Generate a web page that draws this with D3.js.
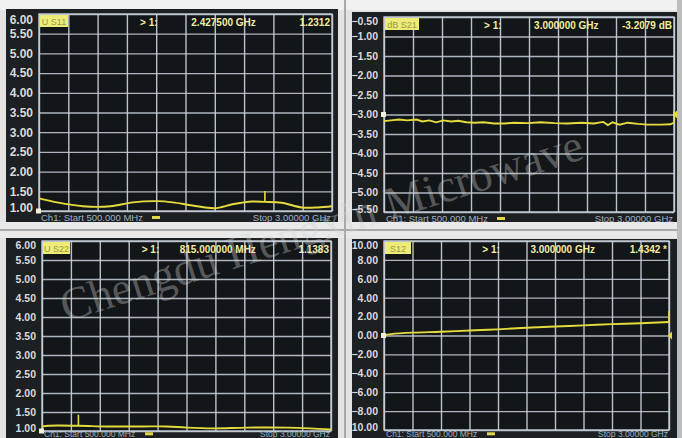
<!DOCTYPE html>
<html><head><meta charset="utf-8">
<script src="https://cdn.jsdelivr.net/npm/d3@7"></script>
<style>body{margin:0;background:#e6e6e6;overflow:hidden}svg{display:block}</style>
</head><body>
<svg id="c" width="682" height="438"></svg>
<script>
// ---- data ----
const freqS11 = [0.5,0.65,0.875,1.11,1.30,1.51,1.64,1.81,2.0,2.15,2.32,2.4275,2.57,2.74,2.88,3.0];
const vswrS11 = [1.32,1.22,1.12,1.12,1.22,1.25,1.22,1.14,1.07,1.17,1.24,1.2312,1.21,1.09,1.09,1.12];

const freqS21 = [0.5,0.56,0.63,0.70,0.78,0.83,0.89,0.95,1.01,1.08,1.14,1.21,1.28,1.36,1.45,1.54,1.62,1.74,1.85,1.97,2.08,2.20,2.31,2.39,2.43,2.47,2.53,2.60,2.69,2.77,2.89,2.97,3.0];
const dbS21   = [-3.17,-3.15,-3.13,-3.15,-3.13,-3.18,-3.15,-3.20,-3.15,-3.18,-3.16,-3.20,-3.21,-3.20,-3.23,-3.23,-3.21,-3.22,-3.20,-3.22,-3.23,-3.21,-3.23,-3.19,-3.27,-3.20,-3.26,-3.21,-3.24,-3.26,-3.26,-3.25,-3.2079];

const freqS22 = [0.5,0.56,0.815,1.06,1.37,1.58,1.75,1.98,2.27,2.62,2.82,3.0];
const vswrS22 = [1.12,1.14,1.1383,1.12,1.12,1.12,1.09,1.07,1.09,1.09,1.07,1.04];

const freqS12 = [0.5,0.56,0.75,1.0,1.3,1.5,1.75,2.0,2.25,2.5,2.75,3.0];
const valS12  = [0.05,0.15,0.3,0.4,0.55,0.65,0.82,0.95,1.07,1.2,1.3,1.4342];

const ticksVSWR = [6.00,5.50,5.00,4.50,4.00,3.50,3.00,2.50,2.00,1.50,1.00];
const ticksS21  = [-0.50,-1.00,-1.50,-2.00,-2.50,-3.00,-3.50,-4.00,-4.50,-5.00,-5.50];
const ticksS12  = [10,8,6,4,2,0,-2,-4,-6,-8,-10];

const traceNames   = ["U S11","dB S21","U S22","S12"];
const markerFreqs  = ["2.427500 GHz","3.000000 GHz","815.000000 MHz","3.000000 GHz"];
const markerValues = ["1.2312","-3.2079 dB","1.1383","1.4342 *"];
const startLabel = "Ch1: Start 500.000 MHz";
const stopLabel  = "Stop 3.00000 GHz";
const watermark  = "Chengdu Hengxin Microwave";

// ---- layout ----
const svg = d3.select("#c");
svg.append("rect").attr("width",682).attr("height",438).attr("fill","#e3e3e3");
svg.append("rect").attr("width",682).attr("height",10).attr("fill","#f1f1f1");
svg.append("rect").attr("x",0).attr("y",222).attr("width",682).attr("height",16).attr("fill","#e9e9e9");
svg.append("line").attr("x1",0).attr("x2",682).attr("y1",230).attr("y2",230).attr("stroke","#a9a9a9").attr("stroke-width",2);
svg.append("line").attr("x1",345).attr("x2",345).attr("y1",0).attr("y2",438).attr("stroke","#a9a9a9").attr("stroke-width",2);
svg.append("rect").attr("x",677).attr("y",0).attr("width",5).attr("height",438).attr("fill","#bdbdbd");

const panels = [
  {screen:[6,9,332,213],  plot:[39,332,14,211], dom:[1,6], ticks:ticksVSWR, fs:12,
   f:freqS11, v:vswrS11, mk:2.4275, ref:1, curve:d3.curveCatmullRom, boxW:28, rightTri:false},
  {screen:[352,12,325,210], plot:[384,674,17,212], dom:[-5.5,-0.5], ticks:ticksS21, fs:10.5,
   f:freqS21, v:dbS21, mk:3.0, ref:-3, curve:d3.curveLinear, boxW:34, rightTri:true},
  {screen:[6,238,332,200], plot:[42,331,241,431], dom:[1,6], ticks:ticksVSWR, fs:10.5,
   f:freqS22, v:vswrS22, mk:0.815, ref:1, curve:d3.curveCatmullRom, boxW:27, rightTri:false},
  {screen:[352,239,325,199], plot:[384,669,241,430], dom:[-10,10], ticks:ticksS12, fs:10.5,
   f:freqS12, v:valS12, mk:3.0, ref:0, curve:d3.curveCatmullRom, boxW:26, rightTri:true}
];
const fmt = d3.format(".2f");

const defs = svg.append("defs");
panels.forEach((p,i)=>{
  const [sx,sy,sw,sh] = p.screen;
  const [x0,x1,y0,y1] = p.plot;
  defs.append("clipPath").attr("id","clip"+i).append("rect").attr("x",sx).attr("y",sy).attr("width",sw).attr("height",sh);
  const g = svg.append("g").attr("clip-path",`url(#clip${i})`);
  g.append("rect").attr("x",sx).attr("y",sy).attr("width",sw).attr("height",sh).attr("fill","#1d2023");
  g.append("rect").attr("x",x0).attr("y",y0).attr("width",x1-x0).attr("height",y1-y0).attr("fill","#131619");

  const x = d3.scaleLinear().domain([0.5,3.0]).range([x0,x1]);
  const y = d3.scaleLinear().domain(p.dom).range([y1,y0]);

  const yAxis = d3.axisLeft(y).tickValues(p.ticks).tickSize(-(x1-x0)).tickPadding(6).tickFormat(fmt);
  const ya = g.append("g").attr("transform",`translate(${x0},0)`).call(yAxis);
  ya.select(".domain").remove();
  ya.selectAll(".tick line").attr("stroke","#c3ccd5").attr("stroke-width",1.3).attr("stroke-opacity",0.88);
  ya.selectAll(".tick text").attr("fill","#d9dadb").attr("font-family","Liberation Sans, Arial, sans-serif")
    .attr("font-size",p.fs).attr("font-weight","bold")
    .attr("dy",(d,j)=> j===0 ? "0.75em" : (j===p.ticks.length-1 ? "0.05em" : "0.32em"));

  const xTicks = d3.range(11).map(k=>0.5+k*0.25);
  const xAxis = d3.axisBottom(x).tickValues(xTicks).tickSize(-(y1-y0)).tickFormat("");
  const xa = g.append("g").attr("transform",`translate(0,${y1})`).call(xAxis);
  xa.select(".domain").remove();
  xa.selectAll(".tick line").attr("stroke","#c8d1da").attr("stroke-width",1.4).attr("stroke-opacity",0.92);
  g.append("rect").attr("x",x0).attr("y",y0).attr("width",x1-x0).attr("height",y1-y0)
    .attr("fill","none").attr("stroke","#c8d1da").attr("stroke-width",1.3);

  const w = x1-x0;
  g.append("rect").attr("x",x0+1).attr("y",y0+1).attr("width",p.boxW).attr("height",12).attr("fill","#eeec78");
  g.append("text").attr("x",x0+1+p.boxW/2).attr("y",y0+10.5).attr("text-anchor","middle")
    .attr("font-family","Liberation Sans, Arial, sans-serif").attr("font-size",9).attr("fill","#9a9848").text(traceNames[i]);
  const hdr = {"font-family":"Liberation Sans, Arial, sans-serif","font-size":10,"font-weight":"bold","fill":"#f1eca2"};
  const t1 = g.append("text").attr("x",x0+0.345*w).attr("y",y0+11.5).text("> 1:");
  const t2 = g.append("text").attr("x",x0+0.74*w).attr("y",y0+11.5).attr("text-anchor","end").text(markerFreqs[i]);
  const t3 = g.append("text").attr("x",x1-2).attr("y",y0+11.5).attr("text-anchor","end").text(markerValues[i]);
  [t1,t2,t3].forEach(t=>Object.entries(hdr).forEach(([k,v])=>t.attr(k,v)));

  const pts = p.f.map((f,j)=>[f,p.v[j]]);
  const line = d3.line().x(d=>x(d[0])).y(d=>y(d[1])).curve(p.curve);
  g.append("path").attr("d",line(pts)).attr("fill","none").attr("stroke","#e5db3e").attr("stroke-width",1.9);

  const mv = pts.find(d=>d[0]===p.mk)[1];
  g.append("line").attr("x1",x(p.mk)).attr("x2",x(p.mk)).attr("y1",y(mv)).attr("y2",y(mv)-11)
    .attr("stroke","#e5db3e").attr("stroke-width",1.6);
  g.append("rect").attr("x",x0-3).attr("y",y(p.ref)-2.5).attr("width",5).attr("height",5).attr("fill","#f2f0d8");
  if(p.rightTri){
    g.append("path").attr("d",`M${x1+3},${y(p.ref)-4} L${x1-1},${y(p.ref)} L${x1+3},${y(p.ref)+4} Z`).attr("fill","#e5db3e");
  }

  const sb = Math.min(y1+10, 437.3);
  const fsz = y1+10 > 437.3 ? 8.5 : 9.5;
  const st = {"font-family":"Liberation Sans, Arial, sans-serif","font-size":fsz,"fill":"#9db0c2"};
  const s1 = g.append("text").attr("x",x0+2).attr("y",sb).text(startLabel);
  const s2 = g.append("text").attr("x",x1-1).attr("y",sb).attr("text-anchor","end").text(stopLabel);
  [s1,s2].forEach(t=>Object.entries(st).forEach(([k,v])=>t.attr(k,v)));
  g.append("rect").attr("x",x0+(fsz<9?103:113)).attr("y",sb-5).attr("width",8).attr("height",3).attr("fill","#e3d64a");
});

svg.append("text").attr("transform","translate(66,322) rotate(-17.5)")
  .attr("font-family","Liberation Serif, Times New Roman, serif").attr("font-size",46)
  .attr("textLength",545).attr("lengthAdjust","spacingAndGlyphs")
  .attr("fill","#d4d4d4").attr("fill-opacity",0.36).text(watermark);
</script>
</body></html>
